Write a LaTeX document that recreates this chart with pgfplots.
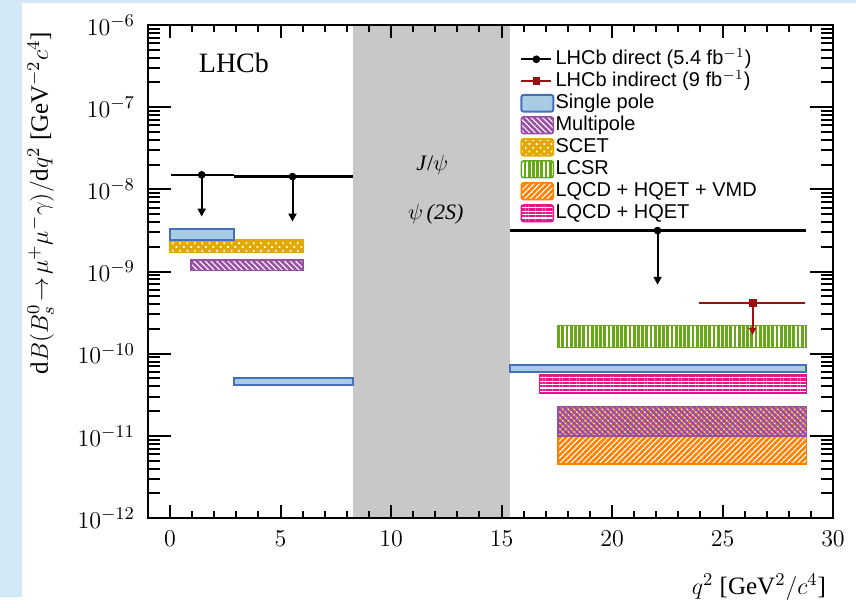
\documentclass[border=0pt]{standalone}
\usepackage{fontspec}
\setmainfont{Liberation Serif}
\newfontfamily\legfont{Liberation Sans}
\usepackage{pgfplots}
\pgfplotsset{compat=1.18}
\usetikzlibrary{patterns.meta,arrows.meta}
\definecolor{bgblue}{RGB}{210,232,246}
\definecolor{spfill}{RGB}{168,204,228}
\definecolor{spedge}{RGB}{70,110,185}
\definecolor{mpcol}{RGB}{152,78,163}
\definecolor{scetcol}{RGB}{226,170,0}
\definecolor{lcsrcol}{RGB}{104,168,24}
\definecolor{vmdcol}{RGB}{255,128,0}
\definecolor{hqcol}{RGB}{230,20,140}
\definecolor{indcol}{RGB}{155,15,15}
\definecolor{bandgray}{RGB}{200,200,200}
\pgfplotsset{
  mylineleg/.style={legend image code/.code={\draw[mark repeat=2,mark phase=2,##1] plot coordinates {(0pt,0pt) (7.5pt,0pt) (15pt,0pt)};}},
  myarealeg/.style={legend image code/.code={\draw[##1, rounded corners=1.2pt] (0pt,-4.2pt) rectangle (16pt,4.2pt);}},
}
\begin{document}
\begin{tikzpicture}
\fill[white] (0,0) rectangle (428pt,298.5pt);
\fill[bgblue] (0,0) rectangle (11pt,298.5pt);
\fill[bgblue] (0,297.2pt) rectangle (428pt,298.5pt);
% main axis: data, x ticks, legend
\begin{axis}[
  at={(74pt,39.5pt)}, anchor=south west,
  scale only axis, width=342.5pt, height=246.5pt,
  ymode=log, xmin=-1, xmax=30, ymin=1e-12, ymax=1e-6,
  tick align=inside, xtick pos=both, ytick pos=both,
  axis line style={line width=1.25pt},
  every tick/.style={black, line width=1pt},
  tick label style={font=\fontsize{12.5}{14}\selectfont},
  label style={font=\fontsize{12.5}{14}\selectfont},
  xtick={0,5,...,30}, minor x tick num=4,
  ytick=\empty,
  major tick length=6.5pt, minor tick length=3.5pt,
  xticklabel style={yshift=-3pt},
  xlabel={$q^2$ [GeV$^2/c^4$]},
  xlabel style={at={(axis description cs:1.0,-0.1)}, anchor=north east},
  axis on top,
  legend style={at={(rel axis cs:0.543,0.953)}, anchor=north west, draw=none, fill=none,
    font=\legfont\fontsize{10}{11}\selectfont, inner sep=0pt, row sep=0.3pt,
    nodes={inner sep=0.6pt, text height=7.4pt, text depth=2.1pt},
    cells={anchor=west}},
  legend cell align=left,
]
% J/psi - psi(2S) veto band
\addplot[fill=bandgray, draw=none, forget plot] coordinates {(8.27,1e-12) (15.37,1e-12) (15.37,1e-6) (8.27,1e-6)} -- cycle;

% LQCD + HQET + VMD
\addplot[draw=vmdcol, line width=0.7pt, pattern={Lines[angle=45,distance=2pt,line width=1.3pt]}, pattern color=vmdcol, forget plot]
  coordinates {(17.55,4.52e-12) (28.8,4.52e-12) (28.8,2.25e-11) (17.55,2.25e-11)} -- cycle;
% Multipole
\addplot[draw=mpcol, line width=0.7pt, pattern={Lines[angle=-45,distance=2pt,line width=1.3pt]}, pattern color=mpcol, forget plot]
  coordinates {(0.95,1.03e-9) (6.02,1.03e-9) (6.02,1.38e-9) (0.95,1.38e-9)} -- cycle;
\addplot[draw=mpcol, line width=0.7pt, pattern={Lines[angle=-45,distance=2pt,line width=1.3pt]}, pattern color=mpcol, forget plot]
  coordinates {(17.55,1.0e-11) (28.8,1.0e-11) (28.8,2.27e-11) (17.55,2.27e-11)} -- cycle;
% SCET
\addplot[draw=scetcol, line width=0.7pt, preaction={fill=scetcol}, pattern={Dots[angle=45,distance=2.6pt,radius=0.6pt]}, pattern color=white, forget plot]
  coordinates {(0,1.70e-9) (6.02,1.70e-9) (6.02,2.42e-9) (0,2.42e-9)} -- cycle;
% LCSR
\addplot[draw=lcsrcol, line width=0.7pt, pattern={Lines[angle=90,distance=2.1pt,line width=1.45pt]}, pattern color=lcsrcol, forget plot]
  coordinates {(17.55,1.19e-10) (28.8,1.19e-10) (28.8,2.22e-10) (17.55,2.22e-10)} -- cycle;
% LQCD + HQET
\addplot[draw=hqcol, line width=0.7pt, pattern={Lines[angle=0,distance=1.7pt,line width=1.15pt]}, pattern color=hqcol, forget plot]
  coordinates {(16.73,3.33e-11) (28.8,3.33e-11) (28.8,5.52e-11) (16.73,5.52e-11)} -- cycle;
% Single pole
\addplot[draw=spedge, line width=1pt, fill=spfill, forget plot]
  coordinates {(0,2.44e-9) (2.87,2.44e-9) (2.87,3.25e-9) (0,3.25e-9)} -- cycle;
\addplot[draw=spedge, line width=1pt, fill=spfill, forget plot]
  coordinates {(2.87,4.17e-11) (8.27,4.17e-11) (8.27,5.03e-11) (2.87,5.03e-11)} -- cycle;
\addplot[draw=spedge, line width=1pt, fill=spfill, forget plot]
  coordinates {(15.37,6.05e-11) (28.8,6.05e-11) (28.8,7.31e-11) (15.37,7.31e-11)} -- cycle;

% LHCb direct (upper limits)
\addplot[black, line width=1.2pt, forget plot] coordinates {(0.04,1.50e-8) (2.87,1.50e-8)};
\addplot[black, line width=1.2pt, forget plot] coordinates {(2.87,1.43e-8) (8.27,1.43e-8)};
\addplot[black, line width=1.2pt, forget plot] coordinates {(15.37,3.15e-9) (28.8,3.15e-9)};
\addplot[black, line width=1pt, -{Triangle[length=4pt,width=4pt]}, forget plot] coordinates {(1.43,1.50e-8) (1.43,4.66e-9)};
\addplot[black, line width=1pt, -{Triangle[length=4pt,width=4pt]}, forget plot] coordinates {(5.54,1.43e-8) (5.54,4.05e-9)};
\addplot[black, line width=1pt, -{Triangle[length=4pt,width=4pt]}, forget plot] coordinates {(22.06,3.15e-9) (22.06,6.9e-10)};
\addplot[black, only marks, mark=*, mark size=1.7pt, forget plot] coordinates {(1.43,1.50e-8) (5.54,1.43e-8) (22.06,3.15e-9)};

% LHCb indirect
\addplot[indcol, line width=1pt, forget plot] coordinates {(23.92,4.11e-10) (28.74,4.11e-10)};
\addplot[indcol, line width=1pt, -{Triangle[length=3.5pt,width=3.5pt]}, forget plot] coordinates {(26.36,4.11e-10) (26.36,1.69e-10)};
\addplot[indcol, only marks, mark=square*, mark size=1.7pt, forget plot] coordinates {(26.36,4.11e-10)};

% legend
\addlegendimage{mylineleg, black, line width=1pt, mark=*, mark size=1.4pt}
\addlegendentry{LHCb direct (5.4 fb$^{-1}$)}
\addlegendimage{mylineleg, indcol, line width=1pt, mark=square*, mark size=1.4pt}
\addlegendentry{LHCb indirect (9 fb$^{-1}$)}
\addlegendimage{myarealeg, draw=spedge, line width=1pt, fill=spfill}
\addlegendentry{Single pole}
\addlegendimage{myarealeg, draw=mpcol, line width=0.8pt, pattern={Lines[angle=-45,distance=2pt,line width=1.3pt]}, pattern color=mpcol}
\addlegendentry{Multipole}
\addlegendimage{myarealeg, draw=scetcol, line width=0.8pt, preaction={fill=scetcol}, pattern={Dots[angle=45,distance=2.6pt,radius=0.6pt]}, pattern color=white}
\addlegendentry{SCET}
\addlegendimage{myarealeg, draw=lcsrcol, line width=0.8pt, pattern={Lines[angle=90,distance=2.1pt,line width=1.45pt]}, pattern color=lcsrcol}
\addlegendentry{LCSR}
\addlegendimage{myarealeg, draw=vmdcol, line width=0.8pt, pattern={Lines[angle=45,distance=2pt,line width=1.3pt]}, pattern color=vmdcol}
\addlegendentry{LQCD + HQET + VMD}
\addlegendimage{myarealeg, draw=hqcol, line width=0.8pt, pattern={Lines[angle=0,distance=1.7pt,line width=1.15pt]}, pattern color=hqcol}
\addlegendentry{LQCD + HQET}

\node[anchor=west, font=\fontsize{14}{16}\selectfont] at (rel axis cs:0.064,0.923) {LHCb};
\node[font=\fontsize{11}{13}\selectfont] at (rel axis cs:0.415,0.716) {\textit{J}/$\psi$};
\node[font=\fontsize{11}{13}\selectfont] at (rel axis cs:0.42,0.617) {$\psi$\,\textit{(2S)}};
\end{axis}
% overlay axis: y ticks (longer), y tick labels, y label
\begin{axis}[
  at={(74pt,39.5pt)}, anchor=south west,
  scale only axis, width=342.5pt, height=246.5pt,
  ymode=log, xmin=-1, xmax=30, ymin=1e-12, ymax=1e-6,
  tick align=inside, xtick pos=both, ytick pos=both,
  axis line style={line width=1.25pt},
  every tick/.style={black, line width=1pt},
  tick label style={font=\fontsize{12.5}{14}\selectfont},
  label style={font=\fontsize{12.5}{14}\selectfont},
  xtick=\empty,
  major tick length=11.5pt, minor tick length=6pt,
  yticklabel style={xshift=-3pt},
  ylabel={$\mathrm{d}B(B^0_s\!\to\!\mu^+\mu^-\gamma)/\mathrm{d}q^2$ [GeV$^{-2}c^4$]},
  ylabel style={at={(axis description cs:-0.127,1.0)}, anchor=south east},
]
\addplot[draw=none, forget plot] coordinates {(0,1e-9) (1,1e-9)};
\end{axis}
\end{tikzpicture}
\end{document}
